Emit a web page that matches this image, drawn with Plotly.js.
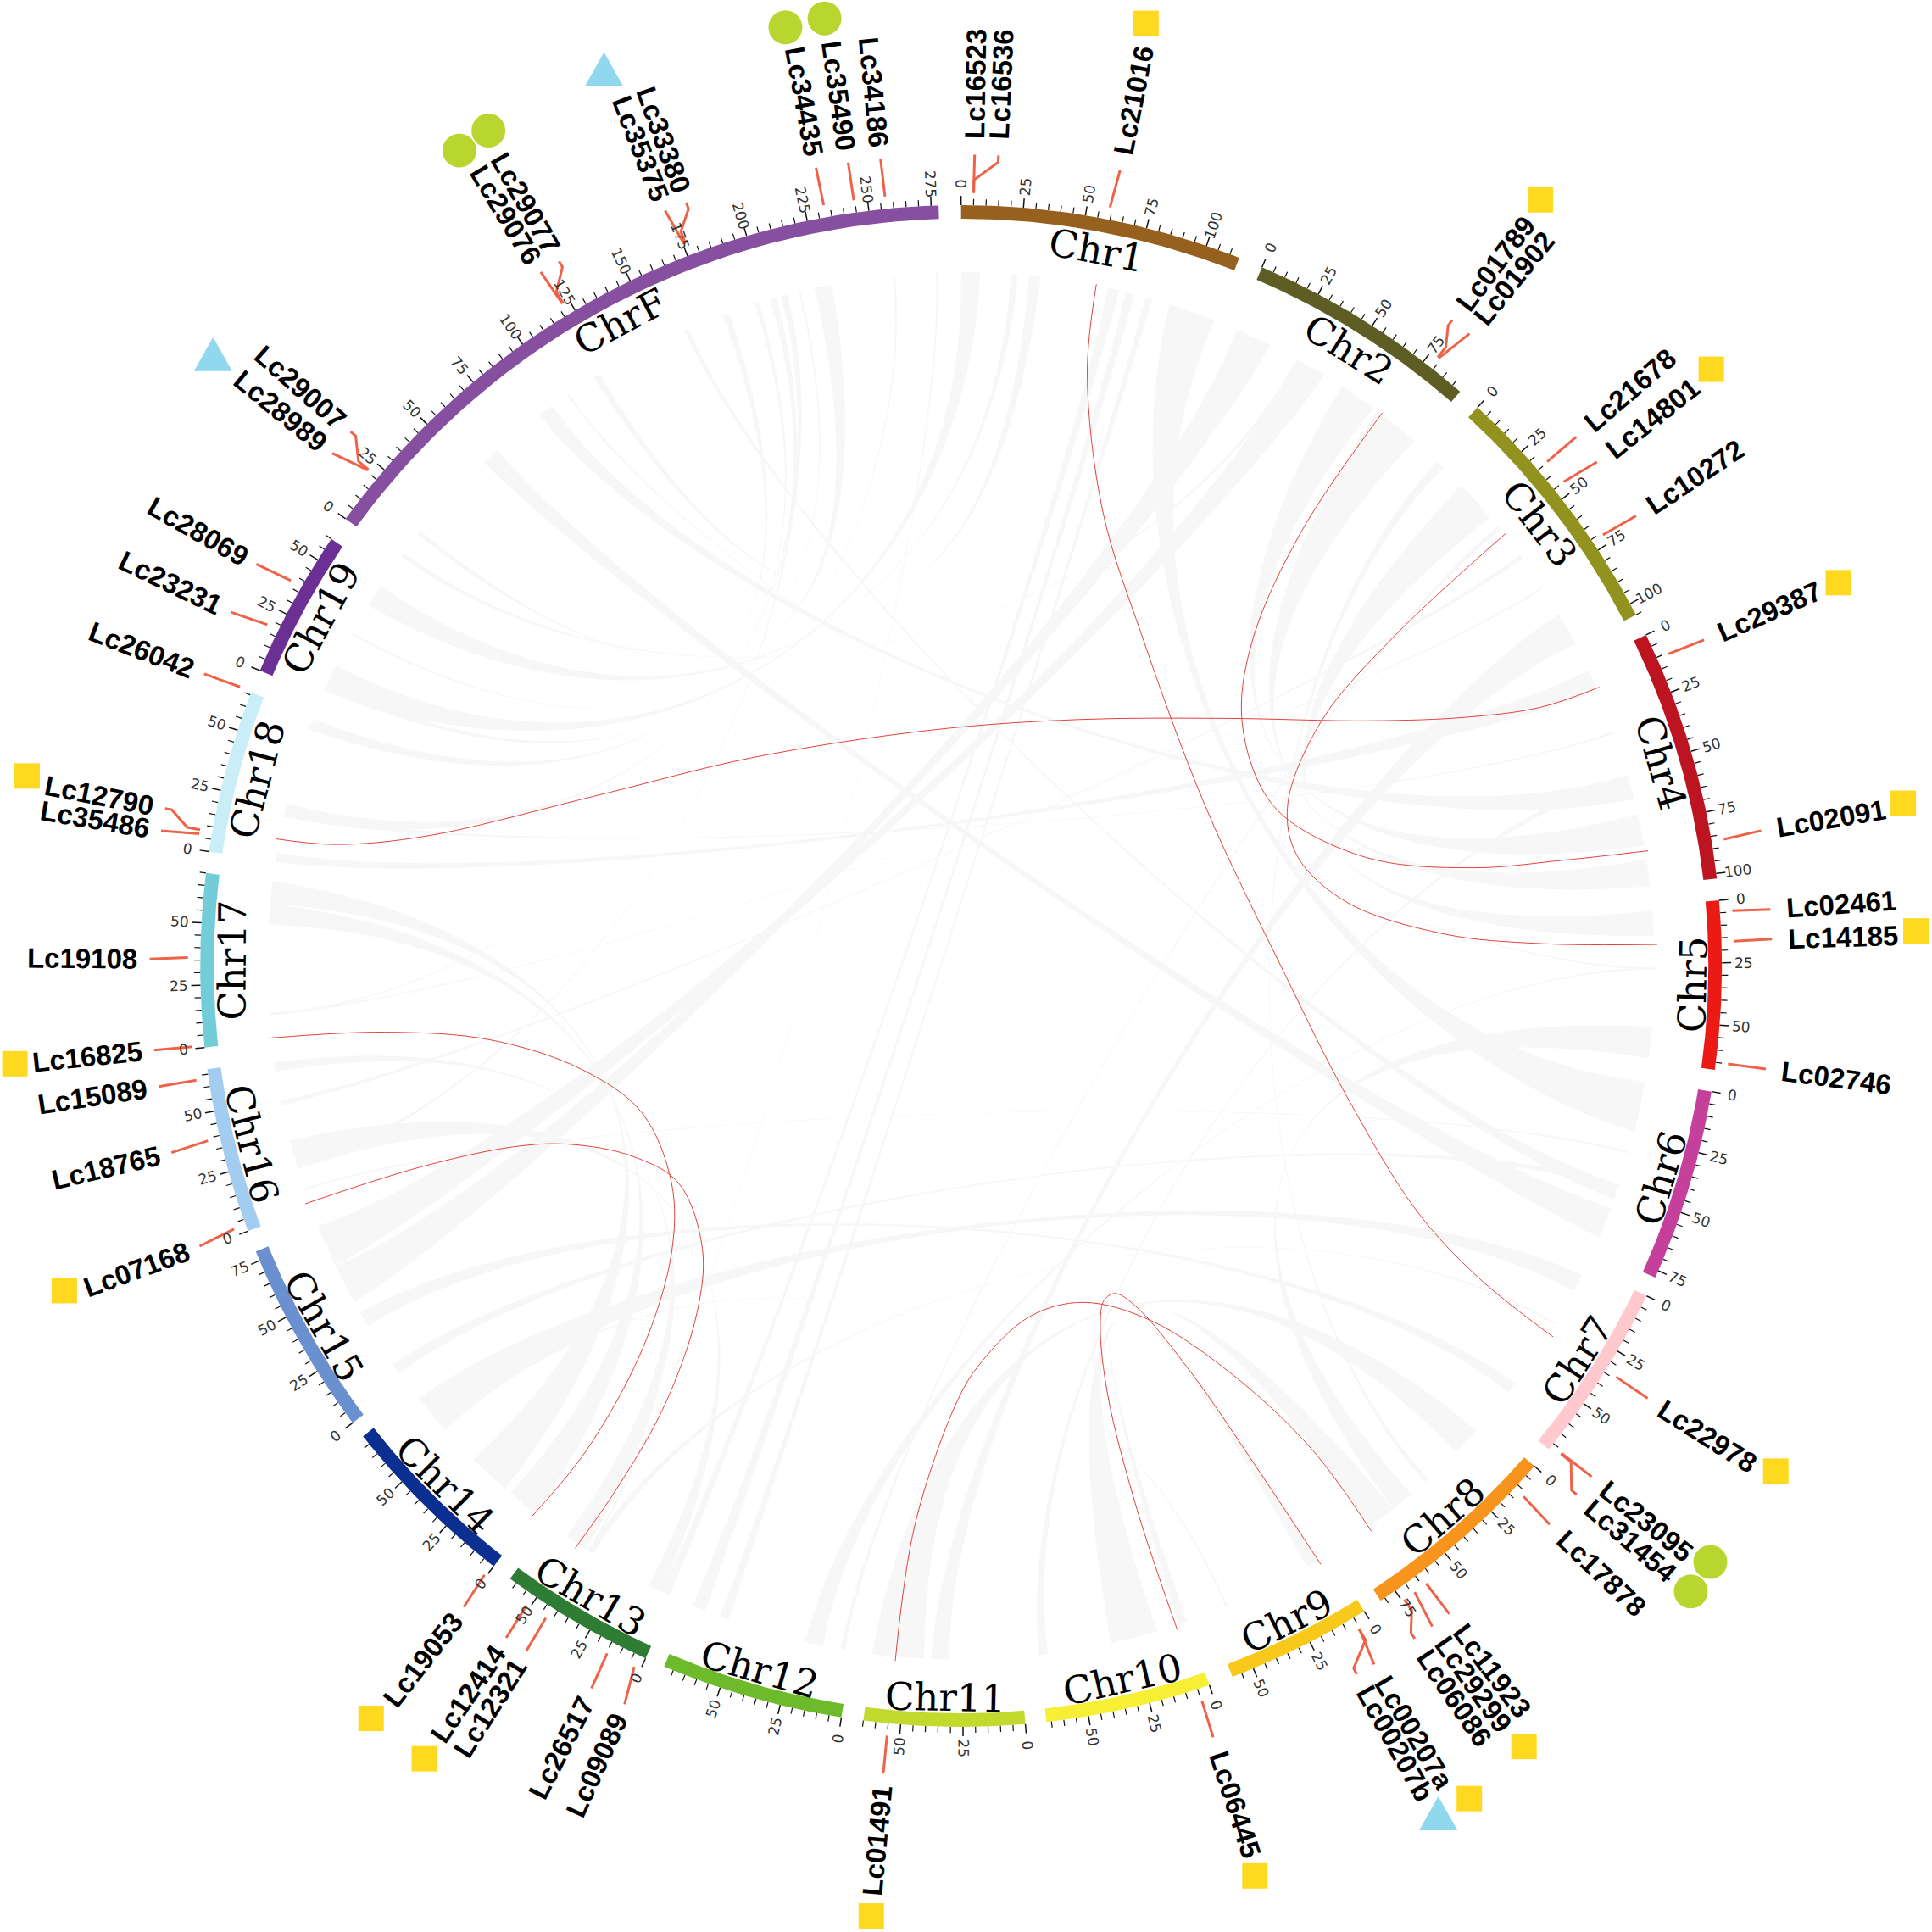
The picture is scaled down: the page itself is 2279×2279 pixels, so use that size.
<!DOCTYPE html>
<html><head><meta charset="utf-8">
<script src="https://cdn.plot.ly/plotly-3.0.1.min.js"></script>
<style>html,body{margin:0;padding:0;background:#fff}</style></head>
<body><div id="chart" style="width:2279px;height:2279px"></div>
<script>
// ---- chromosomes ----
const chrNames  = ['Chr1','Chr2','Chr3','Chr4','Chr5','Chr6','Chr7','Chr8','Chr9','Chr10','Chr11','Chr12','Chr13','Chr14','Chr15','Chr16','Chr17','Chr18','Chr19','ChrF'];
const chrLength = [114,94,105,102,68,78,73,82,59,67,65,74,63,74,79,67,70,66,60,278];
const chrStart  = [0,23.3,42.75,64.2,85.05,99.5,115.7,131.1,148,160.95,175.15,189.05,204.5,217.9,233.1,249.6,263.85,278.65,292.85,306];
const chrColor  = ['#96601F','#5E5E24','#92921F','#BC1420','#EC1A14','#C5409A','#FFC9CE','#F7941D','#F8C91B','#F7EF35','#C2DA2E','#6DBB2A','#2F7D34','#0A2F91','#6B90CF','#A3CDF0','#72CDD8','#C9EEF8','#6C2F94','#874FA0'];
const degPerUnit = 0.18815;

// ---- annotated genes ----
const geneNames = ['Lc16523','Lc16536','Lc21016','Lc01789','Lc01902','Lc21678','Lc14801','Lc10272','Lc29387','Lc02091','Lc02461','Lc14185','Lc02746','Lc22978','Lc23095','Lc31454','Lc17878','Lc11923','Lc29299','Lc06086','Lc00207a','Lc00207b','Lc06445','Lc01491','Lc09089','Lc26517','Lc12321','Lc12414','Lc19053','Lc07168','Lc18765','Lc15089','Lc16825','Lc19108','Lc35486','Lc12790','Lc26042','Lc23231','Lc28069','Lc28989','Lc29007','Lc29076','Lc29077','Lc35375','Lc33380','Lc34435','Lc35490','Lc34186'];
const geneChr   = ['Chr1','Chr1','Chr1','Chr2','Chr2','Chr3','Chr3','Chr3','Chr4','Chr4','Chr5','Chr5','Chr5','Chr7','Chr7','Chr7','Chr8','Chr8','Chr8','Chr8','Chr9','Chr9','Chr10','Chr11','Chr13','Chr13','Chr13','Chr13','Chr14','Chr16','Chr16','Chr16','Chr17','Chr17','Chr18','Chr18','Chr18','Chr19','Chr19','ChrF','ChrF','ChrF','ChrF','ChrF','ChrF','ChrF','ChrF','ChrF'];
const genePos   = [4.9,5,59,78.5,79,34.8,45,71,10.6,87,4.5,16.5,65,34,71,71.3,11.8,63.3,69,74,5.3,5.5,4.8,55,2.7,14.6,42.5,51.5,0.8,2.7,39,63.3,0.8,36,6.4,8,66.5,17.8,37.5,20.7,21,122,122.3,175.5,176,232.6,244.6,257];
const labelDeg  = [0.96,2.64,11.3,37.25,38.8,49.3,51.6,56.3,66.3,80.4,86,88.1,97.3,122.2,129,130.65,133.5,143,144.5,146,149.4,150.8,161.9,185.5,204.5,207.1,212.4,214.1,217.8,249.8,256.7,261.45,264.05,270.5,279.6,281.2,291.1,295.85,299.7,309.2,311.2,328.8,330.3,338.6,340.2,349.7,352,354.3];

// ---- gene class marks ----
const squareDeg = [11.1,37.1,51.5,66.4,80.2,87.9,121.8,144.2,148.6,162.1,185.4,214.1,218.1,250.1,264.1,281.5];
const squareRad = [779.6,779.6,778,777,776,775.5,778,781,791.7,776,774.4,777,776,774,772,773.5];
const circleDeg = [128.5,130.6,328.4,330.5,349.4,351.8];
const circleRad = [777,780,777,779,775,777];
const triDeg    = [150.6,309.3,338.3];
const triRad    = [789,784.5,783.7];

// ---- red highlighted links: way points (axis units) ----
const link1x=[889.8,882.4,895,926.8,978,1043,1092.6,1150,1200,1260.5];
const link1y=[230.7,303.4,415,516,653.8,791,889,983,1037,1085];
const link2x=[1122,1057,1017.6,1007.6,1021.5,1045,1112,1195,1270,1337.6];
const link2y=[335,430,516,579.4,635,665,696.8,704.3,698,690.5];
const link3x=[1222,1132,1072.6,1045,1053,1092.6,1172,1250.5,1345];
const link3y=[433,516,585,653.6,695,732,758,765.8,766.5];
const link4x=[224,273,346.8,487,610,757,875,993.5,1112,1191,1250.5,1298];
const link4y=[680.8,685.4,678.4,645,615,592.4,584,583,585,582,574,557.7];
const link5x=[217.6,312,397.8,472.3,520.9,545,545,520.9,476,431.4];
const link5y=[842.6,837.7,843.9,868,903,960,1017,1096,1177,1231];
const link6x=[247.7,341.8,416.4,461,513,550.6,570,565.6,539.6,502,466.8];
const link6y=[977,947,930.8,928.6,938.3,960,1013,1065.6,1140,1206,1256.5];
const link7x=[955.5,922.8,899,893,896,905,922.7,966,1017.6,1072];
const link7y=[1322.7,1225,1132,1075.8,1055.5,1049.8,1061,1113,1187.6,1269.7];
const link8x=[726.6,742.7,777.5,796.3,835.8,879.3,934.6,1001.8,1065,1113];
const link8y=[1348,1236.8,1135.8,1105.7,1068.4,1057,1072,1116.8,1176.6,1242.8];

// ---- grey syntenic blocks: chrA, from, to, chrB, from, to ----
const ribbons = [
['Chr2',53,70,'Chr4',70,84],['Chr2',72,93,'Chr4',90,102],['Chr3',18,37,'Chr5',2,13],['Chr3',89,104,'Chr11',31,39],
['Chr3',42,44,'Chr12',3,5],['Chr3',3,7,'Chr8',35,37],['Chr1',0,8.5,'Chr19',3,15],['Chr1',22,25,'Chr19',45,55],
['Chr1',30,35,'ChrF',117,120],['Chr1',65,70,'Chr13',2,6],['Chr1',73,77,'Chr12',67,73],['Chr1',82,85,'Chr12',56,60],
['Chr1',93,114,'Chr6',0.5,23],['Chr2',0.5,17,'Chr15',42,60],['Chr2',30,44,'Chr15',60,79],['Chr3',58,60,'Chr16',47,49],
['Chr3',75,76,'Chr17',11,12],['Chr4',3,13,'Chr18',0,4],['Chr4',32,33,'Chr18',20,22],['Chr4',52,63,'ChrF',88,95],
['Chr5',27,28,'Chr12',13,21],['Chr5',53,67,'Chr8',45,55],['Chr6',32,33,'Chr16',8,9],['Chr6',47,54,'ChrF',162,164],
['Chr6',58,72,'ChrF',56,64],['Chr7',28,29,'Chr13',40,43],['Chr7',60,65,'Chr15',30,37],['Chr8',5,18,'Chr11',42,65],
['Chr8',55,68,'Chr10',14,35],['Chr9',5,11,'Chr10',0,4],['Chr9',50,51,'Chr14',54,56],['Chr10',63,67,'Chr4',52,55],
['Chr13',6,12,'Chr16',18,31],['Chr13',44,54,'Chr16',62,66],['Chr14',0,14,'Chr17',51,60],['Chr14',17,36,'Chr17',60,70],
['Chr14',54,72,'Chr7',4,12],['Chr15',5,10,'Chr6',47,50],['ChrF',1,3,'Chr2',30,32],['ChrF',13,15,'ChrF',222,230],
['ChrF',103,104,'Chr5',27,28],['ChrF',180,183,'Chr19',3,6],['ChrF',195,197,'Chr18',60,65],['ChrF',202,205,'Chr18',20,26],
['ChrF',207,210,'Chr16',18,20],['ChrF',215,216,'Chr19',30,31],['ChrF',257,258,'Chr17',11,12],['ChrF',276,277,'Chr13',42,43]
];

// ---- drawing helpers ----
const CX=780, CY=784, RIN=606.5, ROUT=617.5, RRIB=563, RLBL=594;
const pol=(r,d)=>{const t=d*Math.PI/180;return [CX+r*Math.sin(t),CY-r*Math.cos(t)];};
const idx=n=>chrNames.indexOf(n);
const ang=(n,p)=>chrStart[idx(n)]+p*degPerUnit;
const traces=[], notes=[];
const note=(x,y,text,rot,size,family,color)=>notes.push({x,y,xref:'x',yref:'y',text,textangle:rot,showarrow:false,xanchor:'center',yanchor:'middle',font:{size,family,color}});

// ribbons: both edges share the chord shape and pinch towards the middle
function cubic(a,b){
  let sep=Math.abs(a-b)%360; if(sep>180)sep=360-sep;
  const k=0.62-0.2*sep/120, out=[];
  const P0=pol(RRIB,a),P3=pol(RRIB,b),C1=pol(RRIB*(1-k),a),C2=pol(RRIB*(1-k),b);
  for(let i=0;i<=40;i++){const t=i/40,u=1-t;
    out.push([u*u*u*P0[0]+3*u*u*t*C1[0]+3*u*t*t*C2[0]+t*t*t*P3[0],
              u*u*u*P0[1]+3*u*u*t*C1[1]+3*u*t*t*C2[1]+t*t*t*P3[1]]);}
  return out;
}
const rb={x:[],y:[]};
ribbons.forEach(r=>{
  const a1=ang(r[0],r[1]),a2=ang(r[0],r[2]),b1=ang(r[3],r[4]),b2=ang(r[3],r[5]);
  const e1=cubic(a1,b2),e2=cubic(a2,b1);
  const up=[],dn=[];
  e1.forEach((p,i)=>{const q=e2[i],f=1-0.7*Math.sin(Math.PI*i/40),mx=(p[0]+q[0])/2,my=(p[1]+q[1])/2;
    up.push([mx+(p[0]-mx)*f,my+(p[1]-my)*f]);dn.push([mx+(q[0]-mx)*f,my+(q[1]-my)*f]);});
  up.forEach(p=>{rb.x.push(p[0]);rb.y.push(p[1]);});
  for(let i=1;i<6;i++){const p=pol(RRIB,b2+(b1-b2)*i/6);rb.x.push(p[0]);rb.y.push(p[1]);}
  dn.reverse().forEach(p=>{rb.x.push(p[0]);rb.y.push(p[1]);});
  for(let i=1;i<6;i++){const p=pol(RRIB,a2+(a1-a2)*i/6);rb.x.push(p[0]);rb.y.push(p[1]);}
  rb.x.push(null);rb.y.push(null);
});
traces.push({x:rb.x,y:rb.y,mode:'lines',fill:'toself',fillcolor:'#f7f7f7',line:{width:0,color:'#f7f7f7'},name:'syntenic blocks'});

// red links
[[link1x,link1y],[link2x,link2y],[link3x,link3y],[link4x,link4y],[link5x,link5y],[link6x,link6y],[link7x,link7y],[link8x,link8y]].forEach(l=>{
  traces.push({x:l[0],y:l[1],mode:'lines',line:{color:'#E2433E',width:1,shape:'spline',smoothing:1},name:'link'});
});

// ring, ticks, tick labels, names
const tMin={x:[],y:[]},tMaj={x:[],y:[]};
chrNames.forEach((n,i)=>{
  const s=chrStart[i],e=s+chrLength[i]*degPerUnit,xs=[],ys=[];
  for(let j=0;j<=48;j++){const p=pol(ROUT,s+(e-s)*j/48);xs.push(p[0]);ys.push(p[1]);}
  for(let j=48;j>=0;j--){const p=pol(RIN,s+(e-s)*j/48);xs.push(p[0]);ys.push(p[1]);}
  xs.push(xs[0]);ys.push(ys[0]);
  traces.push({x:xs,y:ys,mode:'lines',fill:'toself',fillcolor:chrColor[i],line:{width:0,color:chrColor[i]},name:n});
  for(let p=0;p<=chrLength[i];p+=5){
    const a=s+p*degPerUnit,maj=p%25===0,t=maj?tMaj:tMin,r2=ROUT+(maj?7.5:5);
    const A=pol(ROUT,a),B=pol(r2,a);t.x.push(A[0],B[0],null);t.y.push(A[1],B[1],null);
    if(maj){const q=pol(635,a);note(q[0],q[1],String(p),a<180?a-90:a-270,17,'DejaVu Sans','#333');}
  }
  const mid=(s+e)/2,upper=(mid<=90||mid>=270),q=pol(upper?RLBL-3:RLBL,mid);
  note(q[0],q[1],n,upper?(mid>180?mid-360:mid):mid-180,45,'DejaVu Serif','#000');
});
traces.push({x:tMin.x,y:tMin.y,mode:'lines',line:{color:'#111',width:1.2},name:'minor ticks'});
traces.push({x:tMaj.x,y:tMaj.y,mode:'lines',line:{color:'#111',width:1.5},name:'major ticks'});

// gene leaders and labels
const gl={x:[],y:[]};
geneNames.forEach((n,i)=>{
  const g=ang(geneChr[i],genePos[i]),l=labelDeg[i];
  const path=Math.abs(g-l)<0.8?[[627.5,g],[658.5,l]]:[[627.5,g],[638,g],[653,l],[658.5,l]];
  path.forEach(v=>{const p=pol(v[0],v[1]);gl.x.push(p[0]);gl.y.push(p[1]);});
  gl.x.push(null);gl.y.push(null);
  const q=pol(671+n.length*6.43-(l>180?3:0),l);
  note(q[0],q[1],'<b>'+n+'</b>',l<180?l-90:l-270,33,'Liberation Sans','#000');
});
traces.push({x:gl.x,y:gl.y,mode:'lines',line:{color:'#EE6347',width:3},name:'gene leaders'});

// marks
const sp=squareDeg.map((d,i)=>pol(squareRad[i],d));
traces.push({x:sp.map(p=>p[0]),y:sp.map(p=>p[1]),mode:'markers',marker:{symbol:'square',size:30,color:'#FFD91F'},name:'square'});
const cp=circleDeg.map((d,i)=>pol(circleRad[i],d));
traces.push({x:cp.map(p=>p[0]),y:cp.map(p=>p[1]),mode:'markers',marker:{symbol:'circle',size:40,color:'#B9D630'},name:'circle'});
const tx=[],ty=[];
triDeg.forEach((d,i)=>{const p=pol(triRad[i],d);
  tx.push(p[0]-15.5,p[0]+15.5,p[0],p[0]-15.5,null);ty.push(p[1]+14,p[1]+14,p[1]-13.5,p[1]+14,null);});
traces.push({x:tx,y:ty,mode:'lines',fill:'toself',fillcolor:'#8FD8EE',line:{width:0,color:'#8FD8EE'},name:'triangle'});

Plotly.newPlot('chart',traces,{
  width:2279,height:2279,margin:{l:0,r:0,t:0,b:0},showlegend:false,hovermode:false,
  paper_bgcolor:'#fff',plot_bgcolor:'#fff',
  xaxis:{range:[0,1568],visible:false,fixedrange:true},
  yaxis:{range:[1568,0],visible:false,fixedrange:true},
  annotations:notes
},{staticPlot:true,displayModeBar:false});
</script></body></html>
